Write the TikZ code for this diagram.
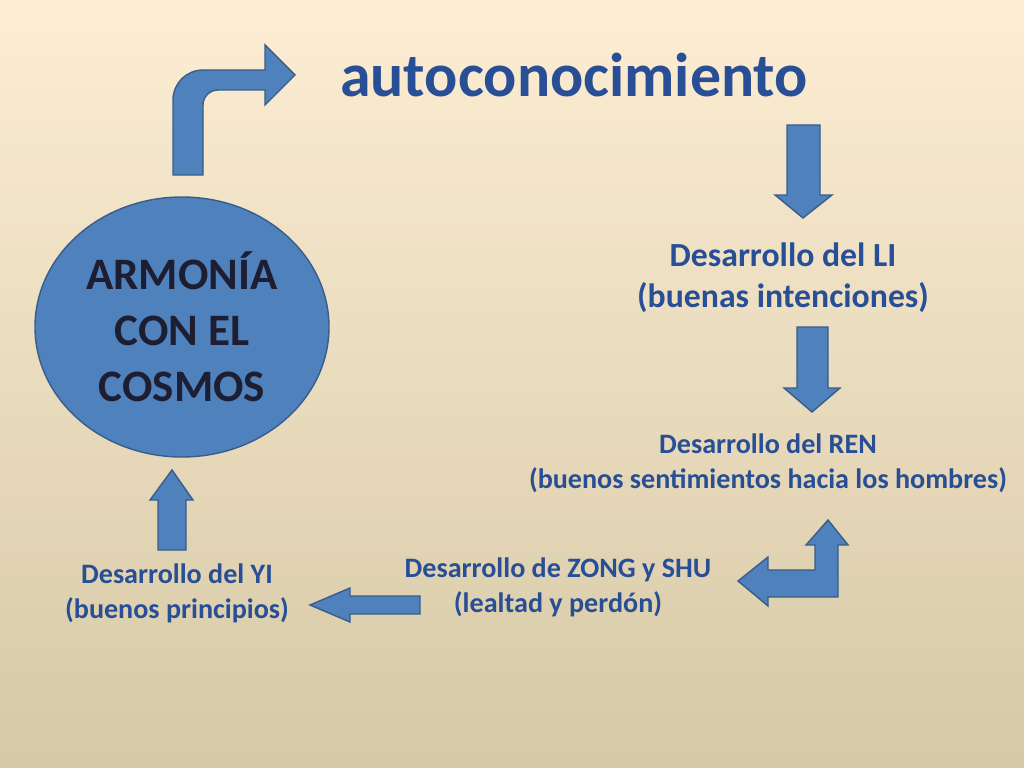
\documentclass[tikz,border=0pt]{standalone}
\usepackage{fontspec}
\setmainfont{Carlito}
\usetikzlibrary{positioning}
\definecolor{fondoA}{RGB}{252,237,212}
\definecolor{fondoB}{RGB}{214,201,166}
\definecolor{flecha}{RGB}{79,129,189}
\definecolor{borde}{RGB}{56,93,138}
\definecolor{letra}{RGB}{40,78,150}
\definecolor{oscuro}{RGB}{30,30,50}
\tikzset{
  flechabox/.style={fill=flecha,draw=borde,line width=1pt,line join=miter},
  rotulo/.style={font=\bfseries\fontsize{20}{25}\selectfont,text=letra,align=center},
}
\begin{document}
\begin{tikzpicture}[x=0.025cm,y=-0.025cm]
\shade[top color=fondoA,bottom color=fondoB] (0,0) rectangle (1024,768);
\useasboundingbox (0,0) rectangle (1024,768);
% circulo
\filldraw[flechabox] (182,327) ellipse ({147} and {130});
\node[font=\bfseries\fontsize{32}{40}\selectfont,text=oscuro,align=center] (armonia) at (182,327) {ARMONÍA\\CON EL\\COSMOS};
% titulo
\node[font=\bfseries\fontsize{44}{50}\selectfont,text=letra] (auto) at (574,75) {autoconocimiento};
% rotulos
\node[rotulo,font=\bfseries\fontsize{24}{29}\selectfont] (li) at (783,278) {Desarrollo del LI\\(buenas intenciones)};
\node[rotulo] (ren) at (768,463) {Desarrollo del REN\\(buenos sentimientos hacia los hombres)};
\node[rotulo] (zong) at (558,587) {Desarrollo de ZONG y SHU\\(lealtad y perdón)};
\node[rotulo] (yi) at (177,593) {Desarrollo del YI\\(buenos principios)};
% flecha doblada arriba
\draw[flechabox] (173,175) -- (173,100) arc (180:270:30) -- (265,70) -- (265,45) -- (295,75)
  -- (265,105) -- (265,90) -- (218,90) arc (270:180:15) -- (203,175) -- cycle;
% flechas abajo
\draw[flechabox] (787,125) -- (820,125) -- (820,195) -- (832,195) -- (803,218) -- (775,195) -- (787,195) -- cycle;
\draw[flechabox] (797,327) -- (828,327) -- (828,388) -- (840,388) -- (812,412) -- (784,388) -- (797,388) -- cycle;
% flecha arriba
\draw[flechabox] (158,550) -- (158,500) -- (150,500) -- (172,470) -- (193,500) -- (186,500) -- (186,550) -- cycle;
% flecha izquierda
\draw[flechabox] (420,596) -- (350,596) -- (350,588) -- (310,605) -- (350,622) -- (350,614) -- (420,614) -- cycle;
% flecha doblada abajo
\draw[flechabox] (838,545) -- (848,545) -- (828,520) -- (806,545) -- (815,545) -- (815,570) -- (768,570)
  -- (768,557) -- (738,581) -- (768,606) -- (768,597) -- (838,597) -- cycle;
\end{tikzpicture}
\end{document}
